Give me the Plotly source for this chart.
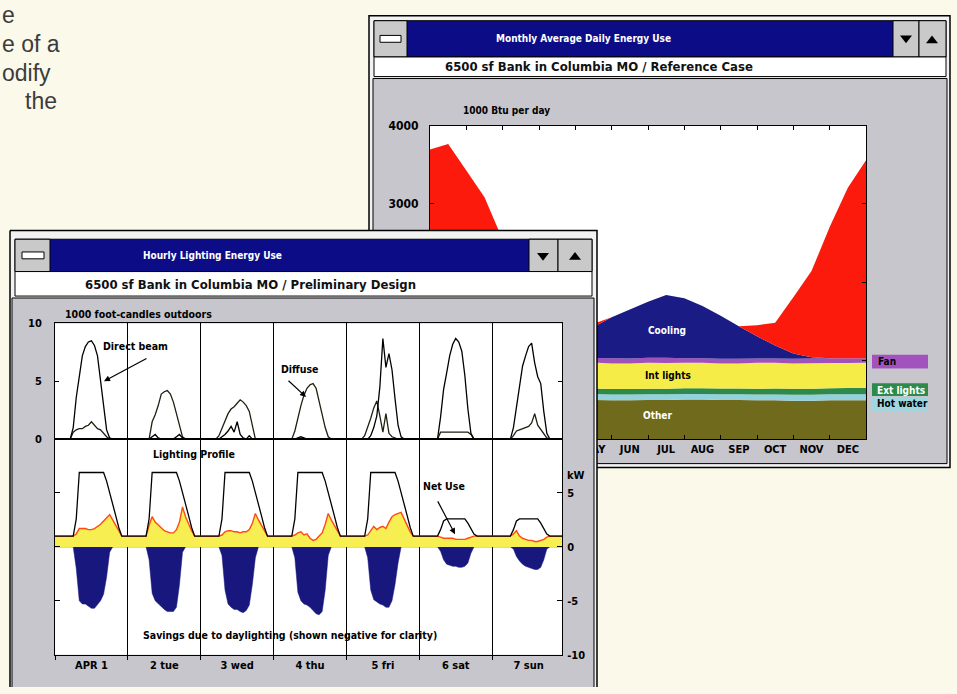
import plotly.graph_objects as go

FIG_W, FIG_H = 957, 694
WIN_FONT = "DejaVu Sans Condensed, Liberation Sans Narrow, Arial Narrow, sans-serif"
PAGE_FONT = "Liberation Sans, Arial, Helvetica, sans-serif"

PAGE_BG = "#fbf9ea"
PANEL_GRAY = "#c6c6cc"
TITLE_BLUE = "#0c0c86"
BUTTON_GRAY = "#c9c9c9"
FRAME = "#f2f2f2"

# ---------------- Monthly Average Daily Energy Use (1000 Btu per day) ----------------
month_names = ["", "", "", "", "MAY", "JUN", "JUL", "AUG", "SEP", "OCT", "NOV", "DEC"]  # Jan-Apr hidden behind the other window
month_pos = [1, 2, 3, 4, 5, 6, 7, 8, 9, 10, 11, 12]
month_bounds = [1.5, 2.5, 3.5, 4.5, 5.5, 6.5, 7.5, 8.5, 9.5, 10.5, 11.5]
btu_ticks = [0, 1000, 2000, 3000, 4000]
btu_tick_text = ["", "", "", "3000", "4000"]  # lower labels hidden behind the other window
season_x = [0.5, 1.0, 1.5, 2.0, 2.5, 3.0, 3.5, 4.0, 4.5, 5.0, 5.5, 6.0, 6.5,
            7.0, 7.5, 8.0, 8.5, 9.0, 9.5, 10.0, 10.5, 11.0, 11.5, 12.0, 12.5]
other_btu = [500, 500, 495, 495, 490, 490, 495, 495, 500, 500, 495, 495, 500,
             500, 505, 505, 500, 500, 495, 495, 490, 490, 495, 495, 495]
hot_water_btu = [80, 80, 80, 78, 78, 76, 76, 75, 75, 74, 74, 73, 73,
                 72, 72, 72, 73, 73, 74, 74, 75, 76, 77, 78, 78]
ext_lights_btu = [80, 80, 78, 78, 76, 75, 74, 73, 72, 72, 71, 71, 70,
                  70, 71, 71, 72, 73, 74, 75, 76, 77, 78, 79, 80]
int_lights_btu = [325, 325, 320, 320, 325, 325, 320, 320, 330, 330, 325, 325, 330,
                  330, 325, 325, 320, 320, 330, 330, 325, 325, 320, 320, 320]
fan_btu = [60, 60, 55, 55, 55, 55, 60, 60, 60, 60, 65, 65, 65,
           65, 60, 60, 60, 60, 55, 55, 60, 60, 60, 60, 60]
cooling_btu = [0, 0, 0, 0, 20, 60, 120, 200, 290, 395, 525, 625, 715,
               800, 765, 665, 550, 415, 285, 165, 65, 15, 0, 0, 0]
heating_btu = [2650, 2720, 2400, 2060, 1500, 1050, 700, 420, 180, 40, 0, 0, 0,
               0, 0, 0, 0, 0, 140, 290, 720, 1100, 1675, 2175, 2525]

energy_layers = [
    ("Other", other_btu, "#6f6a1c"),
    ("Hot water", hot_water_btu, "#93d2dc"),
    ("Ext lights", ext_lights_btu, "#2e8a4c"),
    ("Int lights", int_lights_btu, "#f6ec48"),
    ("Fan", fan_btu, "#a052b8"),
    ("Cooling", cooling_btu, "#1b1b86"),
    ("Heating", heating_btu, "#fb1a0c"),
]

# ---------------- Hourly Lighting Energy Use ----------------
day_labels = ["APR 1", "2 tue", "3 wed", "4 thu", "5 fri", "6 sat", "7 sun"]
day_centers = [12, 36, 60, 84, 108, 132, 156]
day_bounds = [0, 24, 48, 72, 96, 120, 144, 168]

# 1000 foot-candles outdoors, hourly (24 values per day)
direct_beam_fc = [
    [0, 0, 0, 0, 0, 0, 1.0, 3.6, 5.4, 7.2, 8.0, 8.4, 8.5, 8.1, 7.2, 5.1, 2.6, 0.8, 0.1, 0, 0, 0, 0, 0],
    [0, 0, 0, 0, 0, 0, 0, 0, 0.2, 0.4, 0.1, 0, 0, 0, 0, 0, 0.2, 0.4, 0.1, 0, 0, 0, 0, 0],
    [0, 0, 0, 0, 0, 0, 0, 0.2, 0.4, 0.7, 1.1, 0.6, 1.5, 0.4, 0.1, 0, 0.3, 0, 0, 0, 0, 0, 0, 0],
    [0, 0, 0, 0, 0, 0, 0, 0, 0.1, 0.2, 0.1, 0, 0, 0, 0, 0, 0, 0, 0, 0, 0, 0, 0, 0],
    [0, 0, 0, 0, 0, 0, 0, 0, 0.3, 1.0, 2.0, 4.5, 8.7, 6.2, 7.4, 6.0, 3.5, 1.2, 0.2, 0, 0, 0, 0, 0],
    [0, 0, 0, 0, 0, 0, 0, 1.9, 4.3, 5.7, 7.2, 8.2, 8.7, 8.4, 7.6, 5.5, 2.6, 0.5, 0, 0, 0, 0, 0, 0],
    [0, 0, 0, 0, 0, 0, 0, 1.0, 2.8, 4.8, 6.3, 7.2, 8.0, 8.3, 6.6, 5.4, 4.8, 2.4, 0.5, 0, 0, 0, 0, 0],
]
diffuse_fc = [
    [0, 0, 0, 0, 0, 0, 0.6, 0.8, 0.9, 0.9, 1.1, 1.2, 1.5, 1.2, 0.9, 0.8, 0.5, 0.2, 0, 0, 0, 0, 0, 0],
    [0, 0, 0, 0, 0, 0, 0, 0, 1.5, 2.1, 2.9, 3.9, 4.1, 4.2, 3.9, 3.2, 2.2, 1.1, 0.2, 0, 0, 0, 0, 0],
    [0, 0, 0, 0, 0, 0, 0.3, 0.9, 1.6, 2.2, 2.6, 2.8, 3.1, 3.4, 3.2, 2.9, 2.4, 1.3, 0, 0, 0, 0, 0, 0],
    [0, 0, 0, 0, 0, 0, 0, 0.7, 1.9, 2.9, 3.8, 4.4, 4.7, 4.8, 4.4, 3.3, 2.2, 1.0, 0.2, 0, 0, 0, 0, 0],
    [0, 0, 0, 0, 0, 0, 0.3, 1.0, 1.8, 2.7, 3.3, 2.0, 0.6, 2.2, 0.5, 0.2, 0.1, 0, 0, 0, 0, 0, 0, 0],
    [0, 0, 0, 0, 0, 0, 0, 0.6, 0.6, 0.6, 0.6, 0.6, 0.6, 0.6, 0.6, 0.6, 0.6, 0.4, 0, 0, 0, 0, 0, 0],
    [0, 0, 0, 0, 0, 0, 0, 0.3, 0.7, 0.8, 0.9, 1.0, 1.1, 1.4, 2.2, 1.2, 0.8, 0.4, 0.1, 0, 0, 0, 0, 0],
]
# kW, hourly (24 values per day)
lighting_kw = [
    [1, 1, 1, 1, 1, 1, 1, 2.6, 6.9, 6.9, 6.9, 6.9, 6.9, 6.9, 6.9, 6.9, 6.9, 6.1, 5.1, 4.0, 2.9, 1.8, 1.0, 1.0],
    [1, 1, 1, 1, 1, 1, 1, 2.6, 6.9, 6.9, 6.9, 6.9, 6.9, 6.9, 6.9, 6.9, 6.9, 6.1, 5.1, 4.0, 2.9, 1.8, 1.0, 1.0],
    [1, 1, 1, 1, 1, 1, 1, 2.6, 6.9, 6.9, 6.9, 6.9, 6.9, 6.9, 6.9, 6.9, 6.9, 6.1, 5.1, 4.0, 2.9, 1.8, 1.0, 1.0],
    [1, 1, 1, 1, 1, 1, 1, 2.6, 6.9, 6.9, 6.9, 6.9, 6.9, 6.9, 6.9, 6.9, 6.9, 6.1, 5.1, 4.0, 2.9, 1.8, 1.0, 1.0],
    [1, 1, 1, 1, 1, 1, 1, 2.6, 6.9, 6.9, 6.9, 6.9, 6.9, 6.9, 6.9, 6.9, 6.9, 6.1, 5.1, 4.0, 2.9, 1.8, 1.0, 1.0],
    [1, 1, 1, 1, 1, 1, 1, 1.6, 2.4, 2.6, 2.6, 2.6, 2.6, 2.6, 2.6, 2.6, 2.2, 1.7, 1.2, 1.0, 1.0, 1.0, 1.0, 1.0],
    [1, 1, 1, 1, 1, 1, 1, 1.6, 2.4, 2.6, 2.6, 2.6, 2.6, 2.6, 2.6, 2.6, 2.2, 1.7, 1.2, 1.0, 1.0, 1.0, 1.0, 1.0],
]
net_use_kw = [
    [1, 1, 1, 1, 1, 1, 1, 1.2, 1.7, 1.7, 1.7, 1.6, 1.6, 1.7, 1.9, 2.1, 2.4, 2.7, 3.0, 2.5, 2.0, 1.4, 1.0, 1.0],
    [1, 1, 1, 1, 1, 1, 1, 2.0, 2.8, 2.3, 2.0, 1.8, 1.5, 1.4, 1.3, 1.3, 1.6, 2.3, 3.7, 2.8, 2.1, 1.5, 1.0, 1.0],
    [1, 1, 1, 1, 1, 1, 1, 1.1, 1.4, 1.5, 1.5, 1.4, 1.4, 1.3, 1.4, 1.4, 1.6, 2.2, 3.1, 2.5, 2.0, 1.5, 1.0, 1.0],
    [1, 1, 1, 1, 1, 1, 1, 1.1, 1.3, 1.4, 1.1, 1.2, 0.8, 0.6, 0.7, 1.0, 1.3, 2.1, 3.1, 2.5, 2.0, 1.5, 1.0, 1.0],
    [1, 1, 1, 1, 1, 1, 1, 1.1, 1.5, 1.9, 1.6, 1.8, 1.9, 1.7, 2.3, 2.8, 3.0, 3.1, 3.2, 2.6, 2.0, 1.4, 1.0, 1.0],
    [1, 1, 1, 1, 1, 1, 1, 0.9, 0.8, 0.8, 0.8, 0.8, 0.7, 0.7, 0.7, 0.7, 0.8, 0.9, 1.0, 1.0, 1.0, 1.0, 1.0, 1.0],
    [1, 1, 1, 1, 1, 1, 1, 1.2, 1.5, 1.0, 0.8, 0.7, 0.6, 0.6, 0.5, 0.5, 0.6, 0.7, 0.9, 1.0, 1.0, 1.0, 1.0, 1.0],
]
savings_kw = [
    [0, 0, 0, 0, 0, 0, 0, -2.0, -5.0, -5.3, -5.3, -5.5, -5.7, -5.7, -5.4, -5.0, -4.4, -2.8, -0.5, 0, 0, 0, 0, 0],
    [0, 0, 0, 0, 0, 0, 0, -1.2, -4.3, -5.0, -5.3, -5.6, -5.8, -6.0, -6.0, -6.0, -5.6, -3.5, -0.5, 0, 0, 0, 0, 0],
    [0, 0, 0, 0, 0, 0, 0, -0.8, -4.0, -5.3, -5.6, -5.8, -5.8, -6.0, -6.1, -5.9, -5.4, -3.5, -1.0, 0, 0, 0, 0, 0],
    [0, 0, 0, 0, 0, 0, 0, -1.0, -4.2, -5.0, -5.3, -5.4, -5.6, -5.9, -6.2, -6.3, -6.0, -4.0, -0.8, 0, 0, 0, 0, 0],
    [0, 0, 0, 0, 0, 0, 0, -1.0, -4.0, -4.9, -5.1, -5.3, -5.4, -5.6, -5.6, -5.0, -3.5, -1.5, 0, 0, 0, 0, 0, 0],
    [0, 0, 0, 0, 0, 0, 0, -0.4, -1.2, -1.6, -1.7, -1.8, -1.8, -1.9, -1.9, -1.8, -1.5, -0.6, 0, 0, 0, 0, 0, 0],
    [0, 0, 0, 0, 0, 0, 0, -0.2, -0.9, -1.3, -1.6, -1.8, -1.9, -2.0, -2.1, -2.1, -1.9, -1.2, -0.2, 0, 0, 0, 0, 0],
]


def flat(days):
    return [v for d in days for v in d]


hours = list(range(168))


def fx(x):
    return x / FIG_W


def fy(y):
    return 1 - y / FIG_H


traces = []

# ---- right window chart (subplot xy) ----
for name, vals, col in energy_layers:
    traces.append(go.Scatter(x=season_x, y=vals, name=name, stackgroup="energy", mode="none",
                             fillcolor=col, xaxis="x", yaxis="y", hoverinfo="skip"))

# ---- left window chrome drawn as polygons on a pixel overlay (subplot x2y2) ----
def poly(xs, ys, fill, line=None, lw=1.0):
    traces.append(go.Scatter(x=xs, y=ys, mode="lines", fill="toself", fillcolor=fill,
                             line=dict(color=line if line else fill, width=lw if line else 0),
                             xaxis="x2", yaxis="y2", hoverinfo="skip"))


def prect(x0, y0, x1, y1, fill, line=None, lw=1.0):
    poly([x0, x1, x1, x0, x0], [y0, y0, y1, y1, y0], fill, line, lw)


prect(10, 228, 597, 700, FRAME, "black", 1.5)
prect(15, 237, 592, 270, TITLE_BLUE, "black", 1)
prect(15, 237, 50, 270, BUTTON_GRAY, "black", 1)
prect(529, 237, 558, 270, BUTTON_GRAY, "black", 1)
prect(558, 237, 592, 270, BUTTON_GRAY, "black", 1)
prect(22, 250, 44, 257, "white", "black", 1)
poly([537, 549, 543, 537], [251, 251, 259, 251], "black")
poly([569, 581, 575, 569], [258, 258, 250, 258], "black")
prect(15, 270, 592, 295, "white", "black", 1)
prect(12, 297, 594, 700, PANEL_GRAY, "black", 1)
prect(55, 323, 562, 661, "white")

# ---- left window chart: outdoor illuminance (subplot x3y3) ----
traces.append(go.Scatter(x=hours, y=flat(diffuse_fc), mode="lines", line=dict(color="#202010", width=1.3),
                         xaxis="x3", yaxis="y3", hoverinfo="skip"))
traces.append(go.Scatter(x=hours, y=flat(direct_beam_fc), mode="lines", line=dict(color="black", width=1.3),
                         xaxis="x3", yaxis="y3", hoverinfo="skip"))

# ---- left window chart: kW (subplot x4y4) ----
traces.append(go.Scatter(x=hours, y=flat(savings_kw), mode="lines", fill="tozeroy", fillcolor="#17177e",
                         line=dict(color="#17177e", width=0.5), xaxis="x4", yaxis="y4", hoverinfo="skip"))
traces.append(go.Scatter(x=hours, y=flat(net_use_kw), mode="lines", fill="tozeroy", fillcolor="#f7ee52",
                         line=dict(color="#ff4a14", width=1.4), xaxis="x4", yaxis="y4", hoverinfo="skip"))
traces.append(go.Scatter(x=hours, y=flat(lighting_kw), mode="lines", line=dict(color="black", width=1.3),
                         xaxis="x4", yaxis="y4", hoverinfo="skip"))

fig = go.Figure(data=traces)

# ---- right window chrome (paper shapes below everything) ----
shapes = []


def rrect(x0, y0, x1, y1, fill, line=None, lw=1.0):
    shapes.append(dict(type="rect", xref="paper", yref="paper", x0=fx(x0), x1=fx(x1), y0=fy(y1), y1=fy(y0),
                       fillcolor=fill, line=dict(color=line if line else fill, width=lw if line else 0),
                       layer="below"))


def rpath(pts, fill):
    d = "M " + " L ".join(f"{fx(x):.5f},{fy(y):.5f}" for x, y in pts) + " Z"
    shapes.append(dict(type="path", xref="paper", yref="paper", path=d, fillcolor=fill,
                       line=dict(width=0), layer="below"))


rrect(369, 9, 950, 470, FRAME, "black", 1.5)
rrect(374, 14, 946, 51, TITLE_BLUE, "black", 1)
rrect(374, 14, 407, 51, BUTTON_GRAY, "black", 1)
rrect(893, 14, 919, 51, BUTTON_GRAY, "black", 1)
rrect(919, 14, 946, 51, BUTTON_GRAY, "black", 1)
rrect(380, 29, 401, 36, "white", "black", 1)
rpath([(900, 29), (912, 29), (906, 37)], "black")
rpath([(926, 37), (938, 37), (932, 29)], "black")
rrect(374, 51, 946, 71, "white", "black", 1)
rrect(373, 73, 947, 466, PANEL_GRAY, "black", 1)
rrect(430, 121, 866, 441, "white")
rrect(872, 355, 928, 369, "#a352bd")
rrect(872, 384, 928, 397, "#2d8a4c")
rrect(872, 398, 928, 412, "#9fd7e0")

# ---- annotations (pixel coordinates via overlay axes) ----
ann = []


def text(x, y, s, size=11, color="black", anchor="left", family=WIN_FONT, weight="bold"):
    ann.append(dict(x=x, y=y, xref="x2", yref="y2", text=s, showarrow=False, xanchor=anchor, yanchor="middle",
                    font=dict(family=family, size=size, color=color, weight=weight)))


def arrow(x_head, y_head, x_tail, y_tail):
    ann.append(dict(x=x_head, y=y_head, ax=x_tail, ay=y_tail, xref="x2", yref="y2", axref="x2", ayref="y2",
                    text="", showarrow=True, arrowhead=2, arrowsize=1, arrowwidth=1.2, arrowcolor="black"))


# page text at the left edge (cut-off paragraph)
text(0, 8, "e", 23, "#3c3c3c", family=PAGE_FONT, weight="normal")
text(0, 38, "e of a", 23, "#3c3c3c", family=PAGE_FONT, weight="normal")
text(0, 67, "odify", 23, "#3c3c3c", family=PAGE_FONT, weight="normal")
text(23, 96, "the", 23, "#3c3c3c", family=PAGE_FONT, weight="normal")

# right window text
text(583, 32, "Monthly Average Daily Energy Use", 10, "white", "center")
text(599, 61, "6500 sf Bank in Columbia MO / Reference Case", 13, "#111111", "center")
text(461, 106, "1000 Btu per day", 10)
text(667, 330, "Cooling", 10, "white", "center")
text(668, 376, "Int lights", 10, "black", "center")
text(657, 417, "Other", 10, "white", "center")
text(876, 362, "Fan", 10)
text(875, 391, "Ext lights", 10, "white")
text(875, 405, "Hot water", 10)

# left window text
text(212, 254, "Hourly Lighting Energy Use", 10, "white", "center")
text(250, 283, "6500 sf Bank in Columbia MO / Preliminary Design", 13, "#111111", "center")
text(63, 313, "1000 foot-candles outdoors", 10.5)
text(101, 346, "Direct beam", 10.5)
arrow(104, 382, 148, 358)
text(279, 369, "Diffuse", 10.5)
arrow(306, 398, 287, 380)
text(151, 456, "Lighting Profile", 10.5)
text(421, 489, "Net Use", 10.5)
arrow(455, 538, 437, 503)
text(290, 641, "Savings due to daylighting (shown negative for clarity)", 10.5, anchor="center")
text(565, 478, "kW", 11)

tickfont = dict(family=WIN_FONT, size=11, color="black", weight="bold")

fig.update_layout(
    width=FIG_W, height=FIG_H, margin=dict(l=0, r=0, t=0, b=0),
    paper_bgcolor=PAGE_BG, plot_bgcolor="rgba(0,0,0,0)", showlegend=False,
    shapes=shapes, annotations=ann,
    xaxis=dict(domain=[fx(430), fx(866)], range=[0.5, 12.5], anchor="y",
               tickvals=month_pos, ticktext=month_names, ticks="", tickfont=tickfont,
               showline=True, linecolor="black", linewidth=1, mirror="ticks",
               showgrid=False, zeroline=False, fixedrange=True,
               minor=dict(tickvals=month_bounds, ticks="inside", ticklen=4, tickcolor="black", showgrid=False)),
    yaxis=dict(domain=[fy(441), fy(121)], range=[0, 4000], anchor="x",
               tickvals=btu_ticks, ticktext=btu_tick_text, ticks="inside", ticklen=4, tickcolor="black",
               tickfont=dict(family=WIN_FONT, size=12, color="black", weight="bold"), ticklabelstandoff=8,
               showline=True, linecolor="black", linewidth=1, mirror="ticks",
               showgrid=False, zeroline=False, fixedrange=True),
    xaxis2=dict(domain=[0, 1], range=[0, FIG_W], visible=False, anchor="y2", fixedrange=True),
    yaxis2=dict(domain=[0, 1], range=[FIG_H, 0], visible=False, anchor="x2", fixedrange=True),
    xaxis3=dict(domain=[fx(55), fx(562)], range=[0, 167], anchor="y3",
                tickvals=day_bounds[1:-1], showticklabels=False, ticks="",
                showgrid=True, gridcolor="black", gridwidth=1,
                showline=True, linecolor="black", linewidth=1, mirror=True, zeroline=False, fixedrange=True),
    yaxis3=dict(domain=[fy(441), fy(323)], range=[0, 10], anchor="x3",
                tickvals=[0, 5, 10], ticks="inside", ticklen=4, tickcolor="black",
                tickfont=tickfont, ticklabelstandoff=10,
                showline=True, linecolor="black", linewidth=1, mirror="ticks",
                showgrid=False, zeroline=False, fixedrange=True),
    xaxis4=dict(domain=[fx(55), fx(562)], range=[0, 167], anchor="y4",
                tickvals=day_centers, ticktext=day_labels, ticks="", tickfont=tickfont,
                showgrid=False, showline=True, linecolor="black", linewidth=1, mirror=True, zeroline=False,
                fixedrange=True,
                minor=dict(tickvals=day_bounds, ticks="outside", ticklen=4, tickcolor="black",
                           showgrid=True, gridcolor="black", gridwidth=1)),
    yaxis4=dict(domain=[fy(661), fy(441)], range=[-10, 10], anchor="x4", side="right",
                tickvals=[-10, -5, 0, 5], ticktext=["-10", "-5", "0", "5"],
                ticks="inside", ticklen=5, tickcolor="black", tickfont=tickfont, ticklabelstandoff=2,
                showline=True, linecolor="black", linewidth=1, mirror="ticks",
                showgrid=False, zeroline=True, zerolinecolor="black", zerolinewidth=1, fixedrange=True),
)

fig.write_html("out.html", config={"displayModeBar": False},
               post_script="document.body.style.margin='0px';document.body.style.overflow='hidden';")
